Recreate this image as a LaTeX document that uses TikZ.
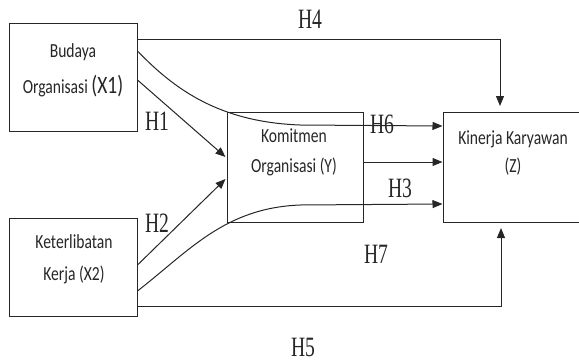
\documentclass[tikz,border=0pt]{standalone}
\usepackage{fontspec}
\usetikzlibrary{arrows.meta}
\newfontfamily\boxfont[FakeStretch=0.78]{Carlito}
\newfontfamily\hfont[FakeStretch=0.7]{Liberation Serif}
\begin{document}
\begin{tikzpicture}[x=1pt,y=-1pt,
  box/.style={draw=black!85,line width=1pt,minimum width=#1,inner sep=0pt},
  boxtext/.style={font=\boxfont\fontsize{20}{#1}\selectfont,align=center,text=black!85,inner sep=0pt},
  hlab/.style={font=\hfont\fontsize{28}{30}\selectfont,text=black!85,inner sep=0pt},
  conn/.style={draw=black!85,line width=1pt},
  arr/.style={conn,-{Triangle[length=10pt,width=8pt]}}]
\useasboundingbox (0,0) rectangle (579,362);
% boxes
\node[box=128pt,minimum height=108pt] (X1) at (73,77) {};
\node[box=136pt,minimum height=110pt] (Y) at (295,167) {};
\node[box=142pt,minimum height=110pt] (Z) at (514,167) {};
\node[box=128pt,minimum height=98pt] (X2) at (73,267) {};
% box texts
\node[boxtext=36] (tX1) at (73,70) {Budaya\\Organisasi {\fontsize{25}{36}\selectfont(X1)}};
\node[boxtext=30] (tY) at (294,152) {Komitmen\\Organisasi (Y)};
\node[boxtext=28] (tZ) at (513,153) {Kinerja Karyawan\\(Z)};
\node[boxtext=32] (tX2) at (74,259) {Keterlibatan\\Kerja (X2)};
% free ends
\coordinate (h4end) at (500,106);
\coordinate (h5end) at (501,228);
% connectors
\draw[arr] ([yshift=-17pt]X1.north east) -| (h4end);
\draw[arr] ([yshift=10pt]X2.south east) -| (h5end);
\draw[arr] ([yshift=-3pt]X1.east) -- ([xshift=-1pt,yshift=10pt]Y.west);
\draw[arr] ([yshift=2pt]X2.east) -- ([xshift=-1pt,yshift=-12pt]Y.west);
\draw[arr] ([yshift=5pt]Y.east) -- ([yshift=5pt]Z.west);
\draw[arr] ([yshift=26pt]X1.east) .. controls (175,90) and (220,122) .. (300,125) -- ([yshift=41pt]Z.west);
\draw[arr] ([yshift=-24pt]X2.east) .. controls (190,250) and (225,208) .. (300,205) -- ([yshift=-37pt]Z.west);
% labels
\node[hlab] (H4) at (310,19) {H4};
\node[hlab] (H1) at (157,121) {H1};
\node[hlab] (H6) at (382,124) {H6};
\node[hlab] (H2) at (157,223) {H2};
\node[hlab] (H3) at (400,188) {H3};
\node[hlab] (H7) at (376,254) {H7};
\node[hlab] (H5) at (303,347) {H5};
\end{tikzpicture}
\end{document}
